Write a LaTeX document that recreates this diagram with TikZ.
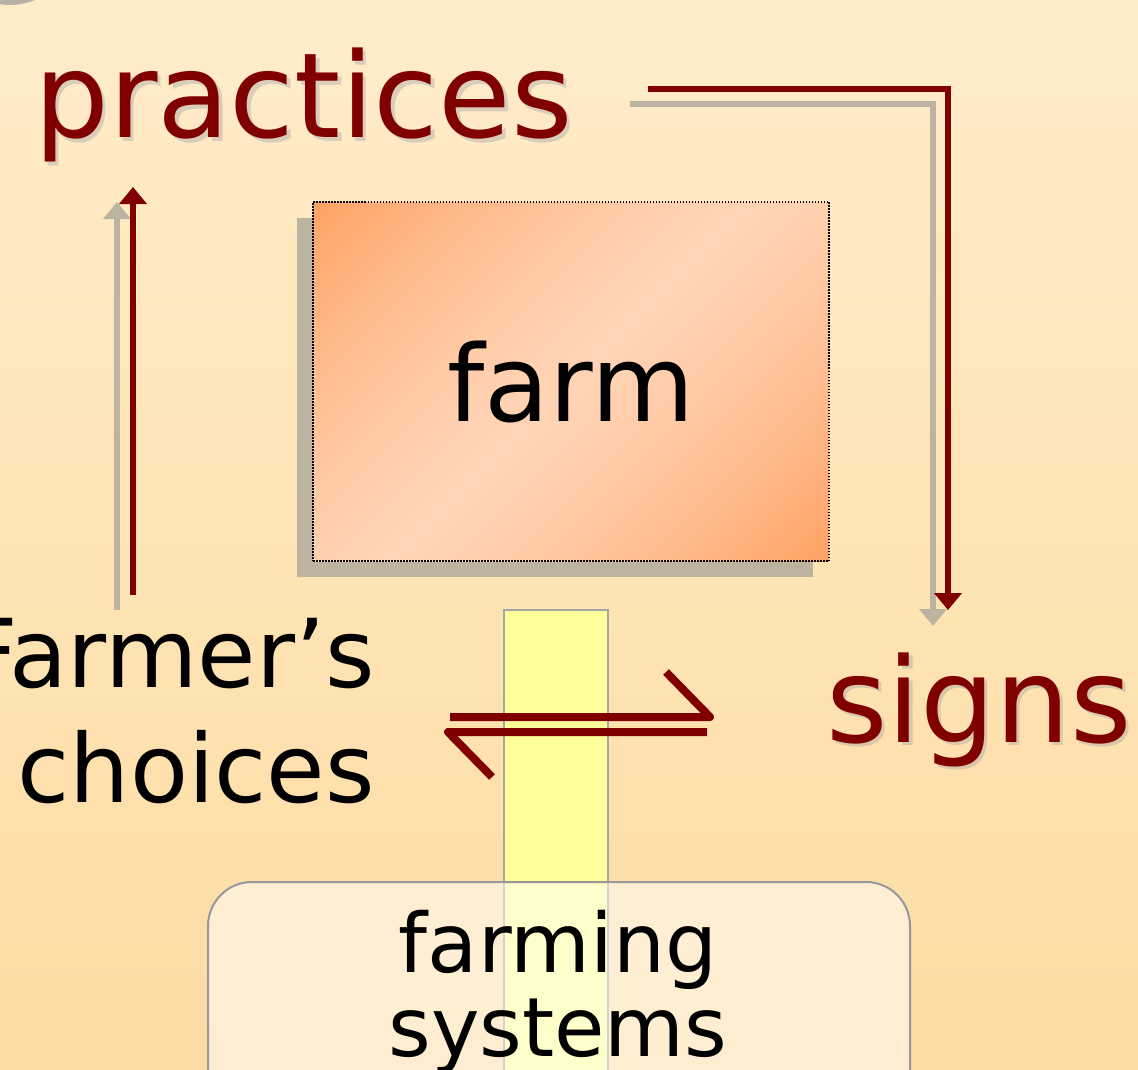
\documentclass[tikz,border=0pt]{standalone}
\usepackage{fontspec}
\setmainfont{DejaVu Sans}
\usetikzlibrary{arrows.meta}
\definecolor{bgtop}{RGB}{255,236,201}
\definecolor{bgbot}{RGB}{253,220,163}
\definecolor{darkred}{RGB}{128,0,0}
\definecolor{shgray}{RGB}{188,180,160}
\definecolor{circgray}{RGB}{183,178,165}
\definecolor{orangeA}{RGB}{255,162,100}
\definecolor{orangeB}{RGB}{255,212,182}
\definecolor{barfill}{RGB}{255,255,153}
\definecolor{bargray}{RGB}{165,165,165}
\definecolor{boxgray}{RGB}{150,150,155}
\definecolor{txtshadow}{RGB}{150,150,165}
\tikzset{
  bigred/.style={font=\fontsize{118}{130}\selectfont, text=darkred, inner sep=0pt, anchor=base west},
  redshadow/.style={font=\fontsize{118}{130}\selectfont, text=txtshadow, text opacity=0.35, inner sep=0pt, anchor=base west},
  blacktxt/.style={font=\fontsize{95}{110}\selectfont, text=black, inner sep=0pt},
  fstxt/.style={font=\fontsize{82}{90}\selectfont, text=black, inner sep=0pt, anchor=base},
  redline/.style={draw=darkred, line width=6pt, -{Triangle[width=27pt,length=17pt]}},
  grayline/.style={draw=shgray, line width=6pt, -{Triangle[width=27pt,length=17pt]}},
  harpoon/.style={draw=darkred, line width=8pt, line join=round, line cap=butt},
  farmbox/.style={draw=black, line width=1.2pt, dash pattern=on 1.5pt off 1.5pt,
    minimum width=516pt, minimum height=359pt, inner sep=0pt,
    font=\fontsize{106}{120}\selectfont},
  fsbox/.style={fill=white, fill opacity=0.5, draw=boxgray, line width=2pt, rounded corners=44pt},
  yellowbar/.style={fill=barfill, draw=bargray, line width=1.5pt},
}
\begin{document}
\begin{tikzpicture}[x=1pt,y=-1pt]
\useasboundingbox (0,0) rectangle (1138,1070);
\clip (0,0) rectangle (1138,1070);
% background
\shade[top color=bgtop, bottom color=bgbot] (0,0) rectangle (1138,1070);
\fill[circgray] (10,-60) circle (65);
% farm box shadow
\fill[shgray] (297,218) rectangle (813,577);
% farm box diagonal gradient (orange corners, light diagonal band)
\begin{scope}
\clip (313,202) rectangle (829,561);
\foreach \i in {0,...,79} {
  \pgfmathsetmacro\s{-1+(\i+0.5)/40}
  \pgfmathtruncatemacro\w{100*(1-pow(abs(\s),1.4))}
  \pgfmathsetmacro\a{-309+\i*7.725}
  \pgfmathsetmacro\b{\a+8.8}
  \pgfmathsetmacro\xa{571+0.7071*(\a+400)}
  \pgfmathsetmacro\ya{381.5+0.7071*(\a-400)}
  \pgfmathsetmacro\xb{571+0.7071*(\a-400)}
  \pgfmathsetmacro\yb{381.5+0.7071*(\a+400)}
  \pgfmathsetmacro\xc{571+0.7071*(\b-400)}
  \pgfmathsetmacro\yc{381.5+0.7071*(\b+400)}
  \pgfmathsetmacro\xd{571+0.7071*(\b+400)}
  \pgfmathsetmacro\yd{381.5+0.7071*(\b-400)}
  \fill[orangeB!\w!orangeA] (\xa,\ya) -- (\xb,\yb) -- (\xc,\yc) -- (\xd,\yd) -- cycle;
}
\end{scope}
\node[farmbox] (farm) at (571,381.5) {farm};
% yellow bar and farming systems box
\draw[yellowbar] (504,610) rectangle (608,1090);
\draw[fsbox] (208,882) rectangle (910,1120);
% texts
\node[redshadow] (practicesSh) at (37.5,141.5) {practices};
\node[bigred] (practices) at (34,138) {practices};
\node[redshadow] (signsSh) at (829.5,745.5) {signs};
\node[bigred] (signs) at (826,742) {signs};
\node[blacktxt, anchor=base east] (farmers) at (375,687) {Farmer’s};
\node[blacktxt, anchor=base east] (choices) at (375,802) {choices};
\node[fstxt] (farming) at (558,972) {farming};
\node[fstxt] (systems) at (558,1056) {systems};
% connector coordinates
\coordinate (prR) at (648,89);
\coordinate (sgR) at (948,610);
\coordinate (prG) at (630,104.5);
\coordinate (sgG) at (933,626);
\coordinate (chR) at (133,595);
\coordinate (prLR) at (133,187);
\coordinate (chG) at (117,610);
\coordinate (prLG) at (117,202);
% practices -> signs
\draw[grayline] (prG) -| (sgG);
\draw[redline] (prR) -| (sgR);
% choices -> practices
\draw[grayline] (chG) -- (prLG);
\draw[redline] (chR) -- (prLR);
% harpoons between choices and signs
\coordinate (h1a) at (450,717);
\coordinate (h1b) at (710,717);
\coordinate (h1c) at (666,672);
\coordinate (h2a) at (707,732);
\coordinate (h2b) at (448,732);
\coordinate (h2c) at (492,777);
\draw[harpoon] (h1a) -- (h1b) -- (h1c);
\draw[harpoon] (h2a) -- (h2b) -- (h2c);
\end{tikzpicture}
\end{document}
